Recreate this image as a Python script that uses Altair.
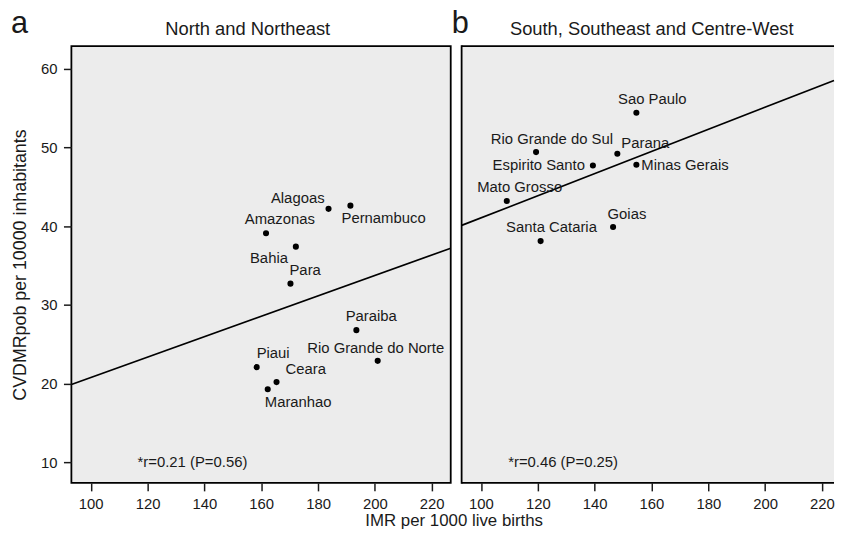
import altair as alt
import pandas as pd

# ---- data ----
states_a = ["Alagoas", "Pernambuco", "Amazonas", "Bahia", "Para", "Paraiba",
            "Rio Grande do Norte", "Piaui", "Ceara", "Maranhao"]
imr_a = [183.7, 191.4, 161.7, 172.2, 170.3, 193.5, 201.0, 158.4, 165.4, 162.3]
cvd_a = [42.2, 42.6, 39.1, 37.4, 32.7, 26.8, 22.9, 22.1, 20.2, 19.3]

states_b = ["Sao Paulo", "Rio Grande do Sul", "Parana", "Espirito Santo",
            "Minas Gerais", "Mato Grosso", "Goias", "Santa Cataria"]
imr_b = [154.7, 119.4, 148.0, 139.4, 154.7, 109.1, 146.5, 121.0]
cvd_b = [54.4, 49.4, 49.2, 47.7, 47.8, 43.2, 39.9, 38.1]

# fitted regression lines (end points read at the visible panel edges)
fit_x_a = [93.2, 226.7]
fit_y_a = [19.9, 37.2]
fit_x_b = [93.2, 224.25]
fit_y_b = [40.1, 58.5]

x_ticks = [100, 120, 140, 160, 180, 200, 220]
y_ticks = [10, 20, 30, 40, 50, 60]

# ---- style ----
FONT = "Liberation Sans"
INK = "#1a1a1a"
FILL = "#ececec"
PH = 441
PW_A, XDOM_A = 383, [93.2, 226.7]
PW_B, XDOM_B = 376, [93.2, 224.25]   # right part of panel b runs off the page
YDOM = [7.4, 62.85]

# label placement: align, dx, dy (pixels)
place = {
    "Alagoas": ("right", -4, -11),
    "Pernambuco": ("left", -9, 12),
    "Amazonas": ("center", 14, -14),
    "Bahia": ("right", -8, 12),
    "Para": ("left", -1, -14),
    "Paraiba": ("center", 15, -14),
    "Rio Grande do Norte": ("center", -2, -13),
    "Piaui": ("left", 0, -14),
    "Ceara": ("left", 9, -13),
    "Maranhao": ("left", -3, 13),
    "Sao Paulo": ("center", 16, -14),
    "Rio Grande do Sul": ("center", 16, -13),
    "Parana": ("left", 4, -11),
    "Espirito Santo": ("right", -8, 0),
    "Minas Gerais": ("left", 5, 0),
    "Mato Grosso": ("center", 13, -14),
    "Goias": ("center", 14, -13),
    "Santa Cataria": ("center", 11, -14),
}


def panel(states, imr, cvd, fx, fy, pw, xdom, title, title_x, letter,
          letter_x, stat, stat_x, first):
    df = pd.DataFrame({"state": states, "imr": imr, "cvd": cvd})
    fit = pd.DataFrame({"imr": fx, "cvd": fy})
    xs = alt.Scale(domain=xdom, nice=False, zero=False)
    ys = alt.Scale(domain=YDOM, nice=False, zero=False)
    xaxis = alt.Axis(values=x_ticks, domain=False, grid=False, tickSize=8,
                     tickWidth=1.5, tickColor=INK, labelFontSize=15,
                     labelFont=FONT, labelColor=INK, labelPadding=6,
                     labelFlush=False,
                     title="IMR per 1000 live births" if first else "",
                     titleFontSize=17, titleFont=FONT, titleFontWeight="normal",
                     titleColor=INK, titleX=386, titleAlign="center",
                     titlePadding=1)
    if first:
        yaxis = alt.Axis(values=y_ticks, domain=False, grid=False, tickSize=8,
                         tickWidth=1.5, tickColor=INK, labelFontSize=15,
                         labelFont=FONT, labelColor=INK, labelPadding=6.5,
                         title="CVDMRpob per 10000 inhabitants",
                         titleFontSize=18, titleFont=FONT,
                         titleFontWeight="normal", titleColor=INK,
                         titlePadding=11)
    else:
        yaxis = None
    X = alt.X("imr:Q", scale=xs, axis=xaxis)
    Y = alt.Y("cvd:Q", scale=ys, axis=yaxis)
    base = alt.Chart(df)
    layers = []
    if not first:
        # frame on three sides (the right side is beyond the page edge)
        fr = alt.Chart(pd.DataFrame({"k": [0]}))
        layers += [
            fr.mark_rule(color="black", strokeWidth=1.8).encode(
                x=alt.value(0), y=alt.value(-0.9), y2=alt.value(PH + 0.9)),
            fr.mark_rule(color="black", strokeWidth=1.8).encode(
                x=alt.value(0), x2=alt.value(pw), y=alt.value(0)),
            fr.mark_rule(color="black", strokeWidth=1.8).encode(
                x=alt.value(0), x2=alt.value(pw), y=alt.value(PH)),
        ]
    line = alt.Chart(fit).mark_line(color="black", strokeWidth=1.7).encode(x=X, y=Y)
    pts = base.mark_circle(size=38, color="black", opacity=1).encode(x=X, y=Y)
    layers += [line, pts]
    for s in states:
        al, dx, dy = place[s]
        layers.append(
            base.transform_filter(alt.datum.state == s).mark_text(
                align=al, baseline="middle", dx=dx, dy=dy, fontSize=15,
                font=FONT, color=INK).encode(x=X, y=Y, text="state:N"))
    ann = alt.Chart(pd.DataFrame({"imr": [stat_x], "cvd": [10], "t": [stat]})).mark_text(
        align="left", baseline="middle", fontSize=15, font=FONT, color=INK).encode(
        x=X, y=Y, text="t:N")
    ttl = alt.Chart(pd.DataFrame({"t": [title]})).mark_text(
        align="center", baseline="alphabetic", fontSize=18.5, font=FONT,
        color=INK).encode(x=alt.value(title_x), y=alt.value(-11), text="t:N")
    lab = alt.Chart(pd.DataFrame({"t": [letter]})).mark_text(
        align="left", baseline="alphabetic", fontSize=31, font=FONT, color=INK).encode(
        x=alt.value(letter_x), y=alt.value(-13.5), text="t:N")
    layers += [ann, ttl, lab]
    props = dict(width=pw, height=PH)
    if not first:
        props["view"] = alt.ViewBackground(fill=FILL, stroke="transparent")
    return alt.layer(*layers).properties(**props)


pa = panel(states_a, imr_a, cvd_a, fit_x_a, fit_y_a, PW_A, XDOM_A,
           "North and Northeast", 178, "a", -61, "*r=0.21 (P=0.56)", 116.5, True)
pb = panel(states_b, imr_b, cvd_b, fit_x_b, fit_y_b, PW_B, XDOM_B,
           "South, Southeast and Centre-West", 192, "b", -10,
           "*r=0.46 (P=0.25)", 109.6, False)

chart = alt.hconcat(pa, pb, spacing=11, bounds="flush").configure_view(
    stroke="black", strokeWidth=1.8, fill=FILL
).properties(padding={"left": 2, "top": -4, "right": -3, "bottom": 0})

chart.save("out.html", embed_options={"renderer": "svg", "actions": False})
